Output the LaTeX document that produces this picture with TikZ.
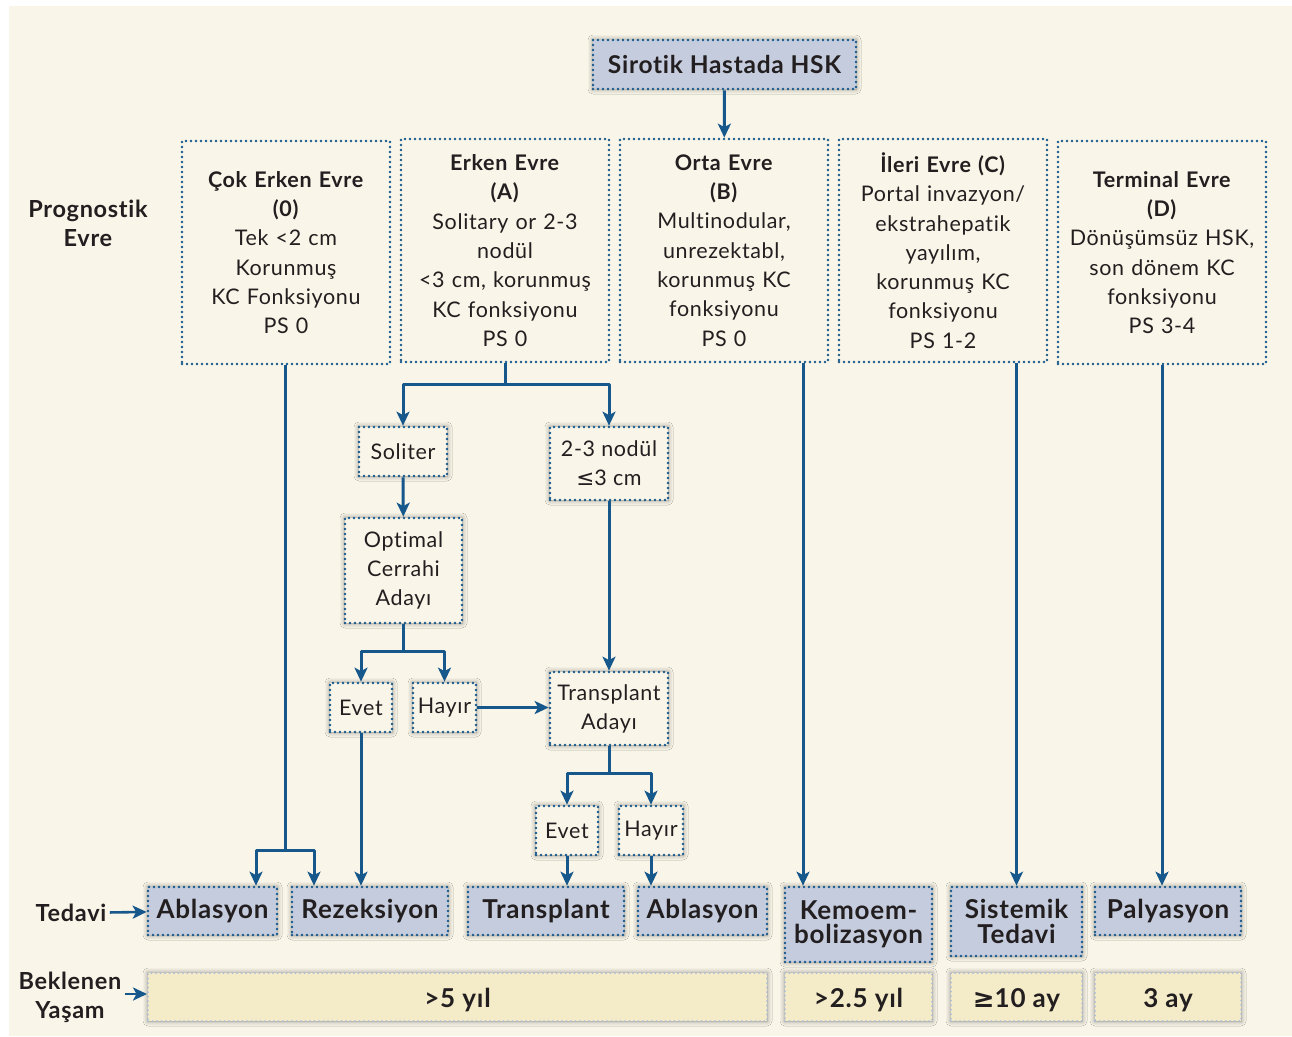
\documentclass[tikz,border=0pt]{standalone}
\usepackage{fontspec}
\setmainfont{Lato}[LetterSpace=3, Ligatures=NoCommon]
\newfontfamily\symfont{DejaVu Sans}
\usetikzlibrary{arrows.meta,shadows.blur}
\definecolor{bgcream}{RGB}{249,245,232}
\definecolor{hskblue}{RGB}{22,88,140}
\definecolor{boxblue}{RGB}{197,204,222}
\definecolor{boxyellow}{RGB}{244,236,200}
\definecolor{rimgray}{RGB}{172,188,216}
\definecolor{ink}{RGB}{35,31,32}
\tikzset{
	dotbox/.style={draw=hskblue, line width=2.7pt, dash pattern=on 0pt off 5pt, line cap=round, inner sep=0pt, align=center, text=ink},
	halo/.style={blur shadow={shadow xshift=0pt, shadow yshift=0pt, shadow blur radius=5pt, shadow opacity=45}},
	stagebox/.style={dotbox, fill=bgcream, minimum width=208pt, minimum height=223pt, text width=204pt, font=\fontsize{21.5}{29.3}\selectfont},
	smallbox/.style={dotbox, halo, fill=bgcream, font=\fontsize{21.5}{29}\selectfont},
	treatbox/.style={dotbox, halo, fill=boxblue, minimum height=48pt, font=\bfseries\fontsize{26}{24.5}\selectfont},
	lifebox/.style={draw=rimgray, halo, fill=boxyellow, line width=2pt, dash pattern=on 0pt off 4.5pt, line cap=round, inner sep=0pt, minimum height=48pt, text height=26pt, text depth=5pt, text=ink, font=\bfseries\fontsize{26}{24}\selectfont},
	sidelabel/.style={text=ink, align=center, font=\bfseries\fontsize{23.5}{29}\selectfont}
}
\begin{document}
\begin{tikzpicture}[x=1pt, y=-1pt, line join=round, >={Stealth[length=14pt,width=13pt,inset=3.5pt]}]
		\useasboundingbox (0,0) rectangle (1292,1036);
		\fill[white] (0,0) rectangle (1292,1036);
		\fill[bgcream] (9,6) rectangle (1292,1036);
		% top and stages
		\node[dotbox, halo, fill=boxblue, minimum width=263pt, minimum height=49pt, font=\bfseries\fontsize{24.5}{24}\selectfont] (top) at (724.5,64.5) {Sirotik Hastada HSK};
		\node[sidelabel] (prog) at (88,223) {Prognostik\\Evre};
		\node[stagebox] (cok) at (286,252.5) {\textbf{Çok Erken Evre}\\\textbf{(0)}\\Tek <2 cm\\Korunmuş\\KC Fonksiyonu\\PS 0};
		\node[stagebox] (erken) at (505,250.5) {\textbf{Erken Evre}\\\textbf{(A)}\\Solitary or 2-3\\nodül\\<3 cm, korunmuş\\KC fonksiyonu\\PS 0};
		\node[stagebox] (orta) at (724,250.5) {\textbf{Orta Evre}\\\textbf{(B)}\\Multinodular,\\unrezektabl,\\korunmuş KC\\fonksiyonu\\PS 0};
		\node[stagebox] (ileri) at (943,250.5) {\textbf{İleri Evre (C)}\\Portal invazyon/\\ekstrahepatik\\yayılım,\\korunmuş KC\\fonksiyonu\\PS 1-2};
		\node[stagebox] (term) at (1162,252.5) {\textbf{Terminal Evre}\\\textbf{(D)}\\Dönüşümsüz HSK,\\son dönem KC\\fonksiyonu\\PS 3-4};
		% early stage branches
		\node[smallbox, minimum width=88pt, minimum height=49pt] (soliter) at (403,451.5) {Soliter};
		\node[smallbox, minimum width=118pt, minimum height=73pt] (nodul) at (609,463.5) {2-3 nodül\\{\symfont ≤}3 cm};
		\node[smallbox, minimum width=117pt, minimum height=105pt] (optimal) at (403.5,570.5) {Optimal\\Cerrahi\\Adayı};
		\node[smallbox, minimum width=62pt, minimum height=49pt] (evet1) at (361,707.5) {Evet};
		\node[smallbox, minimum width=63pt, minimum height=49pt] (hayir1) at (444.5,707.5) {Hayır};
		\node[smallbox, minimum width=118pt, minimum height=73pt] (tadayi) at (609,708.5) {Transplant\\Adayı};
		\node[smallbox, minimum width=62pt, minimum height=49pt] (evet2) at (567,830.5) {Evet};
		\node[smallbox, minimum width=64pt, minimum height=49pt] (hayir2) at (651,830.5) {Hayır};
		% treatments
		\node[sidelabel] (tedavi) at (71,913) {Tedavi};
		\node[treatbox, minimum width=129pt] (abl1) at (212.5,911) {Ablasyon};
		\node[treatbox, minimum width=156pt] (rez) at (370,911) {Rezeksiyon};
		\node[treatbox, minimum width=156pt] (tx) at (546,911) {Transplant};
		\node[treatbox, minimum width=129pt] (abl2) at (702.5,911) {Ablasyon};
		\node[treatbox, minimum width=147pt, minimum height=75pt] (kemo) at (858.5,924.5) {Kemoem-\\bolizasyon};
		\node[treatbox, minimum width=131pt, minimum height=69pt] (sist) at (1016.5,921.5) {Sistemik\\Tedavi};
		\node[treatbox, minimum width=146pt] (paly) at (1168,911) {Palyasyon};
		% expected survival
		\node[sidelabel] (yasam) at (70,997) {Beklenen\\Yaşam};
		\node[lifebox, minimum width=619pt] (life5) at (457.5,997) {>5 yıl};
		\node[lifebox, minimum width=147pt] (life25) at (858.5,997) {>2.5 yıl};
		\node[lifebox, minimum width=131pt] (life10) at (1016.5,997) {{\symfont ≥}10 ay};
		\node[lifebox, minimum width=146pt] (life3) at (1168,997) {3 ay};
		% connectors
		\coordinate (j0) at (285,850);
		\coordinate (jA) at ([yshift=-21pt]erken.south);
		\coordinate (jO) at ([yshift=-27pt]optimal.south);
		\coordinate (jT) at ([yshift=-27pt]tadayi.south);
		\begin{scope}[draw=hskblue, line width=3pt]
		\draw[->] (top) -- (orta);
		\draw (cok.south -| j0) -- (j0);
		\draw[->] (j0) -| ([xshift=43.5pt]abl1.north);
		\draw[->] (j0) -| ([xshift=-56pt]rez.north);
		\draw (erken.south) -- (jA);
		\draw[->] (jA) -| (soliter);
		\draw[->] (jA) -| (nodul);
		\draw[->] (soliter) -- (optimal);
		\draw (optimal) -- (jO);
		\draw[->] (jO) -| (evet1);
		\draw[->] (jO) -| (hayir1);
		\draw[->] (hayir1) -- (hayir1 -| tadayi.west);
		\draw[->] (nodul) -- (tadayi);
		\draw (tadayi) -- (jT);
		\draw[->] (jT) -| (evet2);
		\draw[->] (jT) -| (hayir2);
		\draw[->] (evet1) -- (evet1 |- rez.north);
		\draw[->] (evet2) -- (evet2 |- tx.north);
		\draw[->] (hayir2) -- (hayir2 |- abl2.north);
		\draw[->] ([xshift=79pt]orta.south) -- ([xshift=79pt]orta.south |- kemo.north);
		\draw[->] (sist.north |- ileri.south) -- (sist.north);
		\draw[->] (term) -- (term |- paly.north);
		\draw[->, line width=2.6pt] (tedavi) -- (abl1);
		\draw[->, line width=2.6pt] ([yshift=3pt]yasam.east) -- ([yshift=3pt]yasam.east -| life5.west);
		\end{scope}
		\end{tikzpicture}
\end{document}
